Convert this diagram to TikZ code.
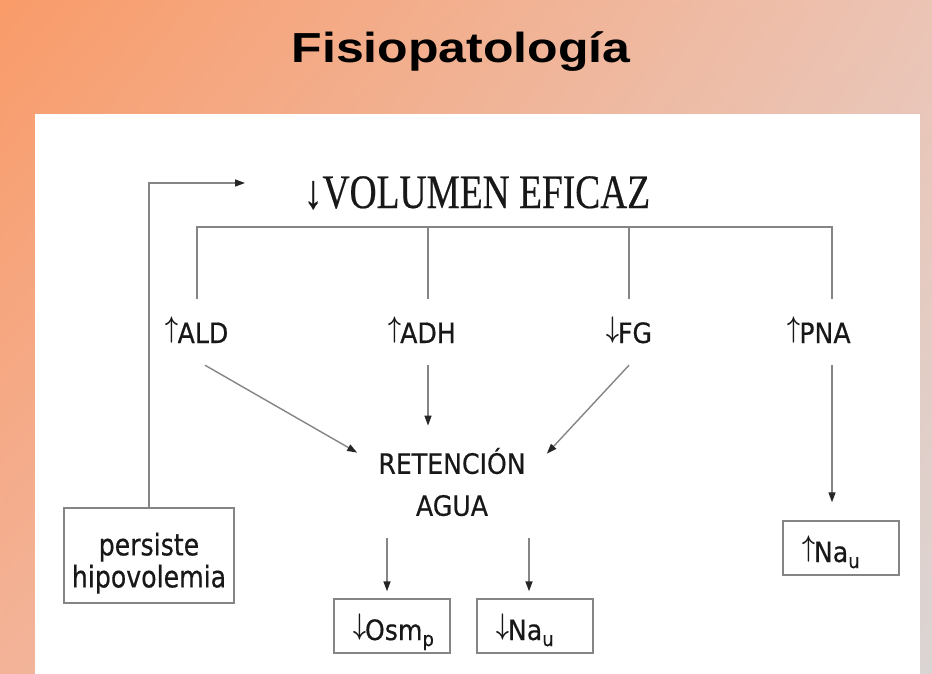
\documentclass[tikz,border=0pt]{standalone}
\usepackage{fontspec}
\setmainfont{Liberation Serif}
\newfontfamily\labfont{DejaVu Sans}[FakeBold=0.5]
\newfontfamily\volfont{Liberation Serif}[FakeBold=0.4]
\newfontfamily\titfont{Liberation Sans}
\usetikzlibrary{arrows.meta,shadings}
\definecolor{bgTL}{HTML}{F99B69}
\definecolor{bgTR}{HTML}{ECC4B5}
\definecolor{bgBL}{HTML}{F3B398}
\definecolor{bgBR}{HTML}{DAD5D4}
\definecolor{linegray}{HTML}{858585}
\definecolor{inkgray}{HTML}{181818}
\newcommand\nw[1]{\scalebox{0.9}[1]{#1}}
\newcommand\up{\raisebox{6pt}{\scalebox{1}[1.2]{\boldmath$\uparrow$}}\kern-1pt}
\newcommand\dn{\raisebox{6pt}{\scalebox{1}[1.2]{\boldmath$\downarrow$}}\kern-1pt}
\newcommand\sbs[1]{\raisebox{-6pt}{\fontsize{20}{20}\selectfont #1}}
\tikzset{
  lab/.style={anchor=base,inner sep=22pt,text height=22pt,text depth=0pt,
    font=\labfont\fontsize{28}{32}\selectfont,text=inkgray},
  link/.style={draw=linegray,line width=1.4pt},
  arr/.style={link,-{Triangle[length=10pt,width=7pt,color=black!85]}},
  valbox/.style={draw=linegray,line width=1.4pt,anchor=base,text height=41pt,
    text depth=13pt,inner ysep=0pt,inner xsep=19pt,text width=78pt,align=left,
    font=\labfont\fontsize{28}{32}\selectfont,text=inkgray}
}
\begin{document}
\begin{tikzpicture}[x=1pt,y=-1pt]
	\useasboundingbox (0,0) rectangle (932,674);
	\shade[upper left=bgTL,upper right=bgTR,lower left=bgBL,lower right=bgBR] (0,0) rectangle (932,674);
	\fill[white] (35,114) rectangle (920,674);
	\node[anchor=base,inner sep=0pt,font=\titfont\bfseries\fontsize{42}{42}\selectfont] (title) at (461,63) {\scalebox{1.19}[1]{Fisiopatología}};
	\node[anchor=base,inner sep=0pt,font=\volfont\fontsize{48}{48}\selectfont,text=inkgray] (vol) at (477,208) {\scalebox{0.78}[1]{↓VOLUMEN EFICAZ}};
	% hormonas
	\node[lab] (ald) at (197,343) {\nw{\up ALD}};
	\node[lab] (adh) at (422,343) {\nw{\up ADH}};
	\node[lab] (fg) at (629,343) {\nw{\dn FG}};
	\node[lab] (pna) at (819,343) {\nw{\up PNA}};
	\coordinate (adhx) at ([xshift=6pt]adh.center);
	\coordinate (pnax) at ([xshift=13pt]pna.center);
	\coordinate (bus) at (0,227);
	\draw[link] (ald.north) |- (pnax |- bus) -- (pnax |- ald.north);
	\foreach \n in {adhx,fg} \draw[link] (\n |- bus) -- (\n |- ald.north);
	\node[align=center,inner xsep=21pt,inner ysep=22pt,font=\labfont\fontsize{28}{42}\selectfont,text=inkgray] (ret) at (452,482) {\nw{RETENCIÓN}\\\nw{AGUA}};
	\draw[arr] ([xshift=8pt]ald.south) -- ([yshift=-27pt]ret.north west);
	\draw[arr] (adhx |- adh.south) -- (adhx |- ret.north);
	\draw[arr] (fg.south) -- ([yshift=-28pt]ret.north east);
	% cajas
	\node[valbox] (osm) at (392,640) {\nw{\dn Osm\sbs{p}}};
	\node[valbox] (na) at (535,640) {\nw{\dn Na\sbs{u}}};
	\node[valbox] (nau) at (841,562) {\nw{\up Na\sbs{u}}};
	\coordinate (osmx) at ([xshift=-5pt]osm.north);
	\coordinate (nax) at ([xshift=-6pt]na.north);
	\draw[arr,shorten >=7pt] (osmx |- ret.south) -- (osmx);
	\draw[arr,shorten >=7pt] (nax |- ret.south) -- (nax);
	\draw[arr,shorten >=18pt] (pnax |- pna.south) -- (pnax |- nau.north);
	\node[draw=linegray,line width=1.4pt,minimum width=170pt,minimum height=95pt,align=center,
		font=\labfont\fontsize{30}{32}\selectfont,text=inkgray] (hipo) at (149,555.5) {\rule{0pt}{38pt}\scalebox{0.84}[1]{persiste}\\\scalebox{0.84}[1]{hipovolemia}};
	\coordinate (fbtip) at (245,183);
	\draw[arr] (hipo.north) |- (fbtip);
\end{tikzpicture}
\end{document}
